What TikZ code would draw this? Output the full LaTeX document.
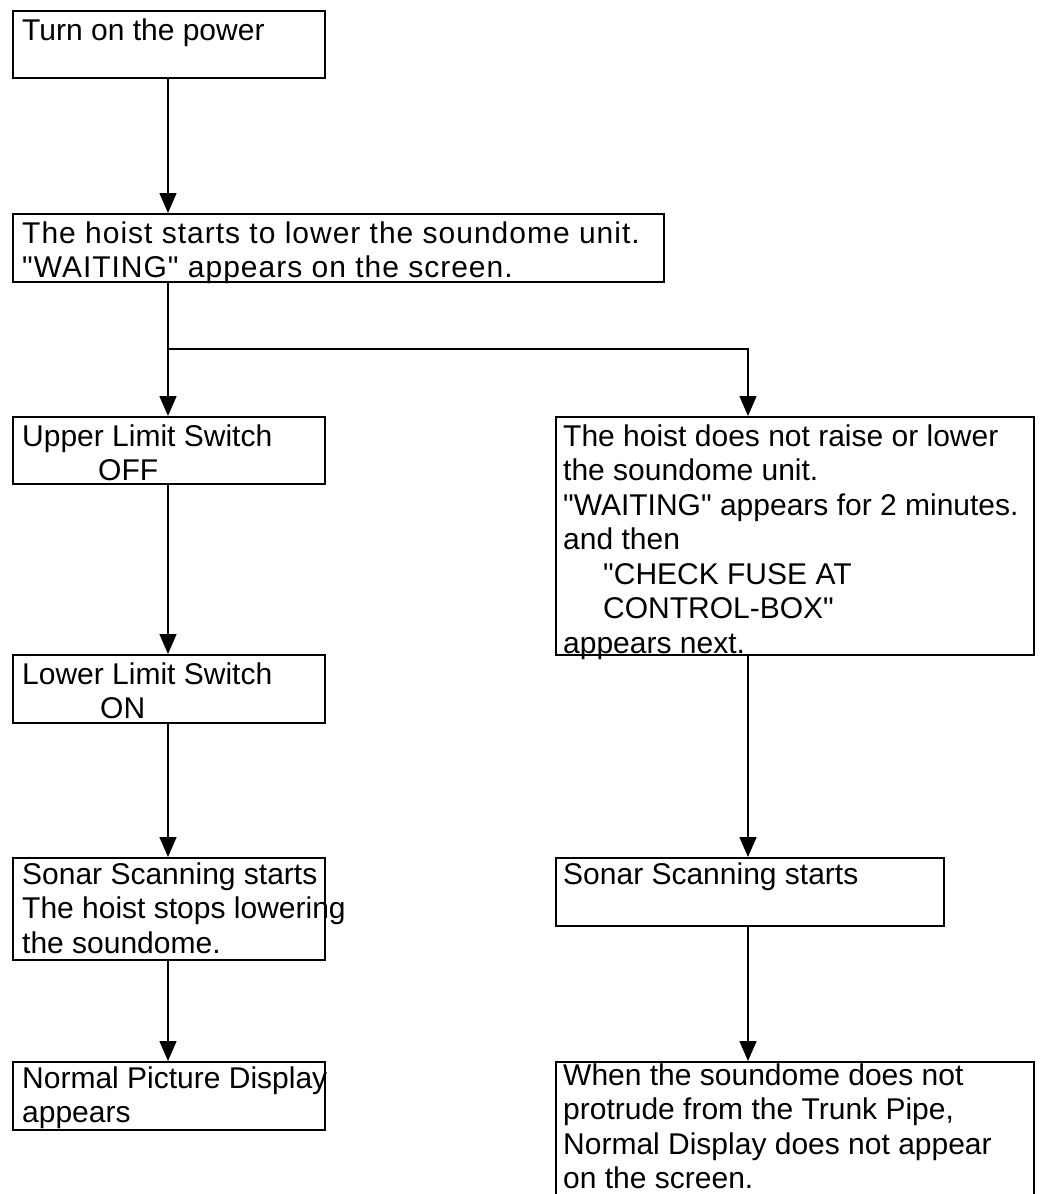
\documentclass[tikz,border=0pt]{standalone}
\usepackage{fontspec}
\setmainfont{Liberation Sans}[Ligatures=TeXOff]
\usetikzlibrary{arrows.meta}
% left-aligned block whose baseline is that of its first line
\newcommand{\boxlines}[1]{\begin{tabular}[t]{@{}l@{}}#1\end{tabular}}
\begin{document}
\begin{tikzpicture}[x=1pt,y=-1pt,
  frame/.style={draw=black, line width=1.5pt, inner sep=0pt, anchor=north west},
  txt/.style={anchor=base west, inner sep=0pt, font=\fontsize{30}{34.5}\selectfont},
  flow/.style={draw=black, line width=1.5pt, -{Triangle[length=20pt,width=17pt]}},
  wire/.style={draw=black, line width=1.5pt}]
\useasboundingbox (0,0) rectangle (1059,1194);
\fill[white] (0,0) rectangle (1059,1194);
\clip (0,0) rectangle (1059,1194);

% connector columns
\coordinate (L) at (168,0);
\coordinate (R) at (748,0);

% boxes
\node[frame, minimum width=312pt, minimum height=67pt] (b1) at (12,10) {};
\node[frame, minimum width=651pt, minimum height=68pt] (b2) at (12,213) {};
\node[frame, minimum width=312pt, minimum height=67pt] (b3) at (12,416) {};
\node[frame, minimum width=478pt, minimum height=238pt] (b4) at (555,416) {};
\node[frame, minimum width=312pt, minimum height=68pt] (b5) at (12,654) {};
\node[frame, minimum width=312pt, minimum height=102pt] (b6) at (12,857) {};
\node[frame, minimum width=388pt, minimum height=68pt] (b7) at (555,857) {};
\node[frame, minimum width=312pt, minimum height=68pt] (b8) at (12,1061) {};
\node[frame, minimum width=478pt, minimum height=170pt] (b9) at (555,1061) {};

% texts
\node[txt] (t1) at ([shift={(10,30)}]b1.north west) {\boxlines{Turn on the power}};
\node[txt] (t2) at ([shift={(10,30)}]b2.north west) {\addfontfeature{LetterSpace=3.3}\boxlines{The hoist starts to lower the soundome unit.\\"WAITING" appears on the screen.}};
\node[txt] (t3) at ([shift={(10,30)}]b3.north west) {\boxlines{Upper Limit Switch\\\hspace*{76pt}OFF}};
\node[txt] (t4) at ([shift={(8,30)}]b4.north west) {\boxlines{The hoist does not raise or lower\\the soundome unit.\\"WAITING" appears for 2 minutes.\\and then\\\hspace*{40pt}"CHECK FUSE AT\\\hspace*{40pt}CONTROL-BOX"\\appears next.}};
\node[txt] (t5) at ([shift={(10,30)}]b5.north west) {\boxlines{Lower Limit Switch\\\hspace*{78pt}ON}};
\node[txt] (t6) at ([shift={(10,27)}]b6.north west) {\boxlines{Sonar Scanning starts\\The hoist stops lowering\\the soundome.}};
\node[txt] (t7) at ([shift={(8,27)}]b7.north west) {\boxlines{Sonar Scanning starts}};
\node[txt] (t8) at ([shift={(10,27)}]b8.north west) {\boxlines{Normal Picture Display\\appears}};
\node[txt] (t9) at ([shift={(8,24)}]b9.north west) {\boxlines{When the soundome does not\\protrude from the Trunk Pipe,\\Normal Display does not appear\\on the screen.}};

% connectors
\coordinate (J) at (168,349);
\coordinate (JR) at (748,349);
\draw[flow] (b1.south -| L) -- (b2.north -| L);
\draw[flow] (b2.south -| L) -- (b3.north -| L);
\draw[flow] (J) -- (JR) -- (b4.north -| R);
\draw[flow] (b3.south -| L) -- (b5.north -| L);
\draw[flow] (b5.south -| L) -- (b6.north -| L);
\draw[flow] (b6.south -| L) -- (b8.north -| L);
\draw[flow] (b4.south -| R) -- (b7.north -| R);
\draw[flow] (b7.south -| R) -- (b9.north -| R);
\end{tikzpicture}
\end{document}
